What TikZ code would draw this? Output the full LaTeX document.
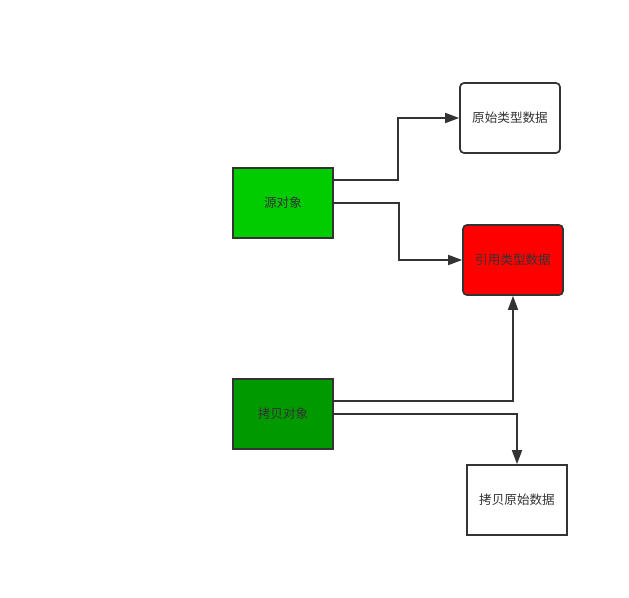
\documentclass[tikz,border=0pt]{standalone}
\usepackage{fontspec}
\newfontfamily\cjk{Noto Sans CJK SC}
\usetikzlibrary{arrows.meta}
\definecolor{ln}{HTML}{333333}
\definecolor{srcgreen}{HTML}{00CC00}
\definecolor{copygreen}{HTML}{009900}
\begin{document}
\begin{tikzpicture}[x=1pt,y=-1pt,
  box/.style={draw=ln,line width=1.7pt,minimum width=100pt,minimum height=70pt,inner sep=0pt,font=\cjk\fontsize{12.6}{14}\selectfont,text=ln},
  rbox/.style={box,rounded corners=4pt},
  conn/.style={draw=ln,line width=1.7pt,-{Triangle[length=14pt,width=10pt]}}]
\useasboundingbox (0,0) rectangle (629,597);
\node[box,fill=srcgreen] (src) at (283,203) {源对象};
\node[rbox,fill=white] (prim) at (510,118) {原始类型数据};
\node[rbox,fill=red] (ref) at (513,260) {引用类型数据};
\node[box,fill=copygreen] (copy) at (283,414) {拷贝对象};
\node[box,fill=white] (craw) at (517,500) {拷贝原始数据};
\draw[conn] ([yshift=23pt]src.east) -- ++(64,0) |- (prim.west);
\draw[conn] (src.east) -- ++(65,0) |- (ref.west);
\draw[conn] ([yshift=13pt]copy.east) -| (ref.south);
\draw[conn] (copy.east) -| (craw.north);
\end{tikzpicture}
\end{document}
